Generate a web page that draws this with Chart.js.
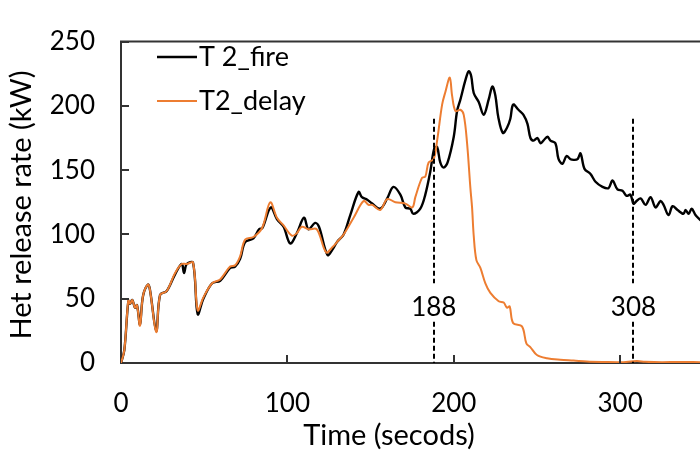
<!DOCTYPE html>
<html>
<head>
<meta charset="utf-8">
<script src="https://cdn.jsdelivr.net/npm/chart.js@4.4.1/dist/chart.umd.min.js"></script>
<style>
  html, body { margin: 0; padding: 0; background: #fff; }
</style>
</head>
<body>
<canvas id="hrrChart" width="700" height="450"></canvas>
<script>
// heat release rate, test T2 with fire and with delayed suppression
const fireTime = [0, 2, 4.4, 5.4, 6.8, 8.4, 9.6, 11.4, 13.2, 16.2, 17.4, 21.2, 23.5, 27.5, 32.5, 36.5, 37.9, 39.5, 43.3, 46.1,
  49.5, 54.8, 59.6, 65.6, 68.6, 71.6, 74.6, 79.6, 83, 85, 90, 93.7, 97.7, 101.7, 105.7, 110, 112.7, 116.7, 119, 124.1,
  127, 129.8, 133.8, 137.8, 142.8, 144.8, 148, 151, 155.8, 160, 163.7, 167.9, 170.9, 173.9, 175.7, 179.9, 182.9, 185.9, 188.3, 190,
  191.9, 193.9, 196.3, 200, 202, 204, 207, 209, 210.5, 212, 215, 218, 221, 223.2, 225, 226.8, 229.5, 232, 234, 235.7,
  238.9, 241.9, 244.3, 246.1, 248, 250.3, 252.1, 253.9, 256.3, 258.1, 261.1, 262.9, 265.3, 267.8, 270.2, 272, 274.4, 276.2, 278.6, 282.2,
  285.2, 289.4, 293, 295.4, 298.4, 301.4, 303.9, 306.2, 308, 309.9, 312.3, 315.3, 318.3, 321.3, 324.3, 326.1, 329.1, 331.5, 334.5, 338.1,
  339.3, 341.2, 343, 345.4, 348.4];
const fireHrr = [0, 10, 48, 46, 49, 43, 45, 30, 52, 61, 57, 25, 53, 56, 69, 77, 70, 77, 78, 38,
  50, 62, 64, 74, 75, 81, 94, 97, 104, 105, 121, 112, 106, 93, 101, 113, 104, 109, 106, 84,
  88, 94, 100, 115, 133, 129, 127, 124, 120, 128, 137, 131, 121, 120, 116, 120, 131, 149, 167, 168,
  156, 152, 156, 176, 196, 205, 220, 227, 223, 210, 203, 193, 205, 215, 208, 191, 179, 183, 190, 201,
  197, 193, 186, 175, 173, 175, 171, 173, 176, 173, 171, 159, 155, 161, 158.5, 158, 158.5, 163, 151, 147,
  141, 137, 136, 142, 135, 134, 130, 131, 124, 126, 128, 123, 129, 121, 126, 123, 115, 122, 119, 116,
  119, 116, 120, 115, 111];

const delayTime = [0, 2, 4.4, 5.4, 6.8, 8.4, 9.6, 11.4, 13.2, 16.2, 17.4, 21.2, 23.5, 27.5, 32.5, 36.5, 39.5, 43.3, 46.1, 49.5,
  54.8, 59.6, 65.6, 68.6, 71.6, 74.6, 79.6, 84.8, 89.7, 93.7, 97.7, 102.7, 105.7, 108.7, 112.7, 117.7, 123.3, 127, 129.8, 133.8,
  139.8, 145.8, 148.8, 151, 155.8, 160, 164.9, 170.9, 175.1, 176.9, 180.9, 182.9, 184.9, 187.9, 190, 193, 195, 197.6, 199, 201,
  204, 206, 208, 210, 211, 212, 213.6, 216, 219, 222, 227, 230, 232, 233.6, 235.7, 241, 243.7, 246, 250, 256,
  264, 272, 280, 290, 300, 310, 315, 325, 335, 348.4];
const delayHrr = [0, 10, 49, 46, 49, 43, 45, 29, 52, 61, 57, 24, 53, 56, 70, 77, 77, 78, 41, 51,
  62, 65, 75, 76, 83, 96, 98, 105, 125, 113, 107, 99, 101, 106, 104, 104, 86, 90, 94, 100,
  113, 126, 123, 123, 119, 127.5, 125, 124, 121, 129, 144, 145, 156, 158.5, 173, 201, 211, 222, 208, 196,
  197, 193, 171, 136, 121, 99, 80, 74, 62, 54.5, 48, 47, 43, 44, 31, 28.5, 15, 12.4, 6.2, 3.7,
  2.5, 1.9, 1.2, 0.8, 0.6, 1.5, 1.0, 0.6, 0.8, 0.6];

const markerTimes = [188, 308];
const xTicks = [0, 100, 200, 300];
const yTicks = [0, 50, 100, 150, 200, 250];

const FONT = 'Lato, "Open Sans", sans-serif';
const AXIS = '#333333';

const toPoints = (xs, ys) => xs.map((x, i) => ({ x: x, y: ys[i] }));

// inward tick marks, top frame line, dashed markers, axis titles and legend
const decorations = {
  id: 'decorations',
  afterDraw(chart) {
    const { ctx, chartArea: a, scales: { x, y } } = chart;
    ctx.save();

    ctx.strokeStyle = AXIS;
    ctx.lineWidth = 2;
    ctx.beginPath();
    ctx.moveTo(a.left - 1, a.top);
    ctx.lineTo(a.right, a.top);
    yTicks.slice(1).forEach(v => {
      const py = Math.round(y.getPixelForValue(v));
      ctx.moveTo(a.left, py);
      ctx.lineTo(a.left + 8, py);
    });
    xTicks.slice(1).forEach(v => {
      const px = Math.round(x.getPixelForValue(v));
      ctx.moveTo(px, a.bottom);
      ctx.lineTo(px, a.bottom - 8);
    });
    ctx.stroke();

    // dashed markers with their time label in the gap
    ctx.strokeStyle = '#000';
    ctx.lineWidth = 2;
    ctx.setLineDash([5, 3]);
    markerTimes.forEach(t => {
      const px = Math.round(x.getPixelForValue(t));
      ctx.beginPath();
      ctx.moveTo(px, y.getPixelForValue(190));
      ctx.lineTo(px, y.getPixelForValue(62));
      ctx.moveTo(px, y.getPixelForValue(32));
      ctx.lineTo(px, y.getPixelForValue(0));
      ctx.stroke();
    });
    ctx.setLineDash([]);
    ctx.fillStyle = '#000';
    ctx.font = '26px ' + FONT;
    ctx.textAlign = 'center';
    ctx.textBaseline = 'middle';
    markerTimes.forEach(t => {
      ctx.fillText(String(t), x.getPixelForValue(t), y.getPixelForValue(43));
    });

    // axis titles
    ctx.font = '29px ' + FONT;
    ctx.fillText('Time (secods)', 389, 436);
    ctx.save();
    ctx.translate(22, 205);
    ctx.rotate(-Math.PI / 2);
    ctx.fillText('Het release rate (kW)', 0, 0);
    ctx.restore();

    // legend
    ctx.font = '27px ' + FONT;
    ctx.textAlign = 'left';
    chart.data.datasets.forEach((ds, i) => {
      const ly = 57 + i * 44;
      ctx.strokeStyle = ds.borderColor;
      ctx.lineWidth = ds.borderWidth;
      ctx.beginPath();
      ctx.moveTo(157, ly);
      ctx.lineTo(197, ly);
      ctx.stroke();
      ctx.fillText(ds.label, 199, ly);
    });

    ctx.restore();
  }
};

new Chart(document.getElementById('hrrChart'), {
  type: 'line',
  data: {
    datasets: [
      {
        label: 'T 2_fire',
        data: toPoints(fireTime, fireHrr),
        borderColor: '#000000',
        borderWidth: 2.4,
        order: 1
      },
      {
        label: 'T2_delay',
        data: toPoints(delayTime, delayHrr),
        borderColor: '#ED7D31',
        borderWidth: 2,
        order: 0
      }
    ]
  },
  options: {
    responsive: false,
    animation: false,
    layout: { padding: { top: 25, right: 0, left: 0, bottom: 0 } },
    elements: {
      point: { radius: 0 },
      line: { tension: 0.35, fill: false }
    },
    plugins: {
      legend: { display: false },
      tooltip: { enabled: false }
    },
    scales: {
      x: {
        type: 'linear',
        min: 0,
        max: 348,
        afterFit: s => { s.height = 87; },
        grid: { display: false, drawTicks: false },
        border: { display: true, color: AXIS, width: 2 },
        ticks: {
          stepSize: 100,
          includeBounds: false,
          padding: 25,
          color: '#000',
          font: { family: FONT, size: 26 }
        }
      },
      y: {
        min: 0,
        max: 250,
        afterFit: s => { s.width = 121; },
        grid: { display: false, drawTicks: false },
        border: { display: true, color: AXIS, width: 2 },
        ticks: {
          stepSize: 50,
          padding: 26,
          color: '#000',
          font: { family: FONT, size: 26 }
        }
      }
    }
  },
  plugins: [decorations]
});
</script>
</body>
</html>
